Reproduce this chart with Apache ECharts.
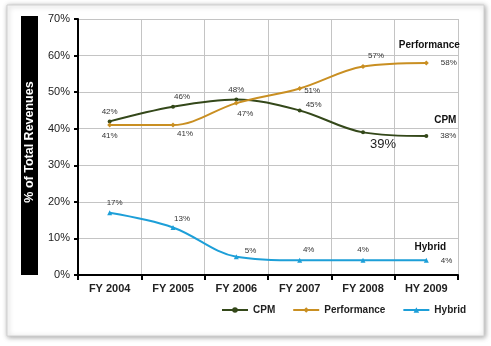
<!DOCTYPE html>
<html><head><meta charset="utf-8">
<script src="https://cdn.jsdelivr.net/npm/echarts@6/dist/echarts.min.js"></script>
<style>html,body{margin:0;padding:0;background:#fff}#c{width:491px;height:346px}</style>
</head><body><div id="c"></div>
<script>
const categories = ['FY 2004','FY 2005','FY 2006','FY 2007','FY 2008','HY 2009'];
const cpm = [42, 46, 48, 45, 39, 38];
const performance = [41, 41, 47, 51, 57, 58];
const hybrid = [17, 13, 5, 4, 4, 4];
const yTicks = [0, 10, 20, 30, 40, 50, 60, 70];

const FONT = '"Liberation Sans", Arial, sans-serif';
const cpmColor = '#34481a', perfColor = '#c98f22', hybColor = '#1d9fd8';

// label placement per point: [position, offsetX, offsetY, fontSize]
const cpmLab = [['top',0,0],['top',9,0],['top',0,0],['right',0,-6],['bottom',20,0,13],['right',8,0]];
const perfLab = [['bottom',0,0],['bottom',12,-2],['bottom',9,0],['right',-2,2],['top',13,0],['right',8,0]];
const hybLab = [['top',5,0],['top',9,2],['right',2,-6],['top',9,0],['top',0,0],['right',8,0]];

function mk(vals, labs){
  return vals.map((v,i)=>({value:v,label:{position:labs[i][0],offset:[labs[i][1],labs[i][2]],fontSize:labs[i][3]||8,color:labs[i][3]?'#222':'#333'}}));
}

const chart = echarts.init(document.getElementById('c'));
const baseLabel = {show:true, formatter:'{c}%', fontFamily:FONT, fontSize:8, distance:4};
chart.setOption({
  animation:false,
  backgroundColor:'#fff',
  textStyle:{fontFamily:FONT},
  grid:{left:78, right:33, top:19, bottom:71, containLabel:false},
  legend:{
    bottom:26, left:216, itemWidth:26, itemHeight:7, itemGap:17,
    textStyle:{fontFamily:FONT, fontWeight:'bold', fontSize:10, color:'#222'},
    data:['CPM','Performance','Hybrid']
  },
  xAxis:{
    type:'category', data:categories, boundaryGap:true,
    axisLine:{lineStyle:{color:'#000', width:2}},
    axisTick:{show:true, length:5, lineStyle:{color:'#000', width:2}},
    axisLabel:{fontFamily:FONT, fontWeight:'bold', fontSize:11, color:'#222', margin:8},
    splitLine:{show:true, lineStyle:{color:'#c4c4c4', width:1}}
  },
  yAxis:{
    type:'value', min:0, max:70, interval:10,
    axisLine:{show:true, lineStyle:{color:'#000', width:2}},
    axisTick:{show:true, length:4, lineStyle:{color:'#000', width:2}},
    axisLabel:{fontFamily:FONT, fontSize:11, color:'#222', margin:8,
      formatter:v=> yTicks.includes(v) ? v+'%' : ''},
    splitLine:{show:true, lineStyle:{color:'#c4c4c4', width:1}}
  },
  series:[
    {name:'CPM', type:'line', smooth:0.35, data:mk(cpm,cpmLab), color:cpmColor,
     symbol:'circle', symbolSize:4, lineStyle:{width:2, color:cpmColor}, itemStyle:{color:cpmColor}, label:baseLabel},
    {name:'Performance', type:'line', smooth:0.35, data:mk(performance,perfLab), color:perfColor,
     symbol:'diamond', symbolSize:5, lineStyle:{width:2, color:perfColor}, itemStyle:{color:perfColor}, label:baseLabel},
    {name:'Hybrid', type:'line', smooth:0.35, data:mk(hybrid,hybLab), color:hybColor,
     symbol:'triangle', symbolSize:5, lineStyle:{width:2, color:hybColor}, itemStyle:{color:hybColor}, label:baseLabel}
  ]
});

// decorative frame, y-axis title bar, series name labels placed relative to last points
const last = categories.length - 1;
const pPerf = chart.convertToPixel({gridIndex:0}, [last, performance[last]]);
const pCpm = chart.convertToPixel({gridIndex:0}, [last, cpm[last]]);
const pHyb = chart.convertToPixel({gridIndex:0}, [last, hybrid[last]]);
const nameStyle = {fontFamily:FONT, fontWeight:'bold', fontSize:10, fill:'#111', align:'center', verticalAlign:'middle'};
chart.setOption({
  graphic:[
    {type:'rect', z:-10, silent:true, shape:{x:7, y:5, width:477, height:331},
     style:{fill:'#fff', stroke:'#d0d0d0', lineWidth:1, shadowBlur:5, shadowColor:'rgba(0,0,0,0.35)', shadowOffsetX:1, shadowOffsetY:1}},
    {type:'rect', z:5, silent:true, shape:{x:21, y:16, width:17, height:259}, style:{fill:'#000'}},
    {type:'text', z:6, silent:true, x:29.5, y:142, rotation:Math.PI/2,
     style:{text:'% of Total Revenues', fontFamily:FONT, fontWeight:'bold', fontSize:12.5, fill:'#fff', align:'center', verticalAlign:'middle'}},
    {type:'text', z:6, silent:true, x:pPerf[0]+3, y:pPerf[1]-18, style:Object.assign({text:'Performance'}, nameStyle)},
    {type:'text', z:6, silent:true, x:pCpm[0]+19, y:pCpm[1]-16, style:Object.assign({text:'CPM'}, nameStyle)},
    {type:'text', z:6, silent:true, x:pHyb[0]+4, y:pHyb[1]-13, style:Object.assign({text:'Hybrid'}, nameStyle)}
  ]
});
</script></body></html>
